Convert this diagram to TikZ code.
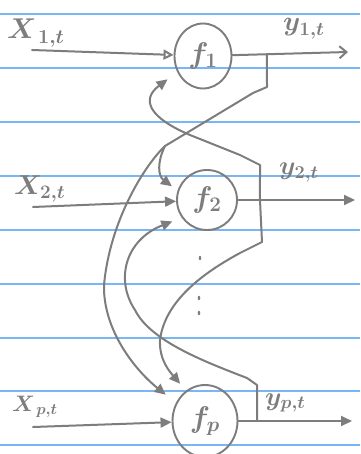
\documentclass[tikz,border=0pt]{standalone}
\usepackage{graphicx}
\usetikzlibrary{arrows.meta,shapes.geometric,calc}
\definecolor{pencil}{RGB}{125,125,125}
\definecolor{ruled}{RGB}{120,182,245}
\newcommand{\bigmath}[2]{\scalebox{#1}{$#2$}}
\begin{document}
\begin{tikzpicture}[x=1pt,y=-1pt,
  pen/.style={draw=pencil,line width=2pt,line cap=round,line join=round},
  arr/.style={pen,-{Triangle[length=11pt,width=10pt]}},
  fn/.style={ellipse,draw=pencil,line width=1.9pt,inner sep=0pt,text=pencil,font=\fontsize{24}{28}\selectfont\boldmath},
  lbl/.style={text=pencil,inner sep=0pt,anchor=base west,font=\fontsize{24}{28}\selectfont\boldmath},
  dotmark/.style={fill=pencil},
  ruleline/.style={draw=ruled,line width=1.4pt}]
\useasboundingbox (0,0) rectangle (360,454);
\fill[white] (0,0) rectangle (360,454);
\foreach \yy in {14,68,122,176,230,284,338,391,445} \draw[ruleline] (0,\yy) -- (360,\yy);

% function nodes
\node[fn,minimum width=57pt,minimum height=65pt] (f1) at (203,56) {\raisebox{-6pt}{\bigmath{1.2}{f_1}}};
\node[fn,minimum width=60pt,minimum height=60pt] (f2) at (207,200) {\raisebox{-4pt}{\bigmath{1.2}{f_2}}};
\node[fn,minimum width=65pt,minimum height=72pt] (fp) at (205,421) {\raisebox{-8pt}{\bigmath{1.2}{f_p}}};

% labels
\node[lbl] (lx1) at (7,39) {\bigmath{1.15}{X_{\,1,t}}};
\node[lbl] (ly1) at (283,31) {\bigmath{1.1}{y_{1,t}}};
\node[lbl] (lx2) at (14,194) {\bigmath{1.1}{X_{2,t}}};
\node[lbl] (ly2) at (279,175) {\bigmath{1.05}{y_{2,t}}};
\node[lbl] (lxp) at (12,411) {\bigmath{0.9}{X_{\,p,t}}};
\node[lbl] (lyp) at (265,405) {\bigmath{1.05}{y_{p,t}}};

% free ends and junctions
\coordinate (x1s) at (32,50);
\coordinate (x2s) at (33,207);
\coordinate (xps) at (33,427);
\coordinate (y1e) at (348,52);
\coordinate (y2e) at (355,200);
\coordinate (ype) at (352,421);
\coordinate (j1) at ($(f1)!0.441!(y1e)$);
\coordinate (j2) at ($(f2)!0.358!(y2e)$);
\coordinate (jp) at ($(fp)!0.354!(ype)$);
\coordinate (br1) at (165,146);

% inputs
\draw[pen,-{Triangle[open,length=10pt,width=10pt]}] (x1s) -- (f1);
\draw[arr] (x2s) -- (f2);
\draw[arr] (xps) -- (fp);

% outputs
\draw[pen,-{Straight Barb[length=7pt,width=12pt]}] (f1) -- (y1e);
\draw[arr] (f2) -- (y2e);
\draw[arr] (fp) -- (ype);

% feedback of y1
\draw[arr,shorten >=13pt] (j1) -- (267,87) -- (253,93) -- (br1)
  .. controls (145,165) and (110,220) .. (104,285)
  .. controls (103,330) and (135,370) .. (fp.148);
\draw[arr,shorten >=7pt] (br1) .. controls (157,162) and (158,176) .. (f2.162);

% feedback of y2
\draw[arr,shorten >=12pt] (j2) -- (260,165) -- (240,155) -- (190,135)
  .. controls (150,118) and (140,100) .. (f1.212);
\draw[arr,shorten >=9pt] (j2) -- (262,242) -- (240,253)
  .. controls (205,272) and (165,300) .. (160,340)
  .. controls (159,360) and (170,372) .. (fp.122);

% feedback of yp
\draw[arr,shorten >=10pt] (jp) -- (257,385) -- (247,378)
  .. controls (200,360) and (150,340) .. (135,310)
  .. controls (115,280) and (125,240) .. (f2.215);

% vertical dots
\fill[dotmark] (200,258) ellipse (1.3pt and 2.2pt);
\fill[dotmark] (199,298) ellipse (1.3pt and 2.2pt);
\fill[dotmark] (199,313) ellipse (1.3pt and 2.2pt);
\end{tikzpicture}
\end{document}
